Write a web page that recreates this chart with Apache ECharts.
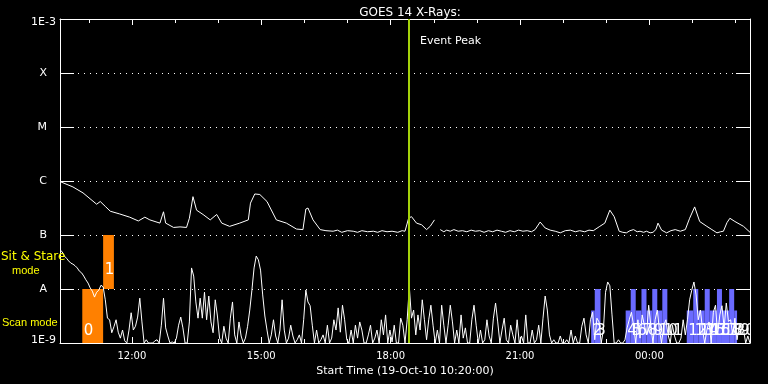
<!DOCTYPE html>
<html><head><meta charset="utf-8">
<script src="https://cdn.jsdelivr.net/npm/echarts@6/dist/echarts.min.js"></script>
<style>html,body{margin:0;padding:0;background:#000;}#c{width:768px;height:384px;}</style>
</head><body><div id="c"></div>
<script>
// Time axis in minutes since 19-Oct-10 00:00
const startMin = 620, endMin = 1580;
const xMajorTicks = [720, 900, 1080, 1260, 1440];
const xMinorTicks = [660, 780, 840, 960, 1020, 1140, 1200, 1320, 1380, 1500, 1560];
const yTickExp = [-9, -8, -7, -6, -5, -4, -3];
const yTickLabels = ['1E-9', 'A', 'B', 'C', 'M', 'X', '1E-3'];
const eventPeakMin = 1105;

// Long channel (log10 flux, W/m^2)
const upTime = [620,638,652,671,676,683,690,703,717,729,738,745,759,764,767,778,787,796,800,805,810,819,829,838,845,856,870,882,885,891,898,908,921,935,949,958,962,965,972,982,990,1000,1006,1012,1020,1028,1034,1040,1048,1056,1062,1068,1075,1082,1090,1096,1100,1105,1109,1116,1123,1130,1135,1141,1145,1149,1154,1158,1163,1168,1174,1180,1186,1192,1198,1204,1210,1216,1222,1228,1234,1240,1246,1252,1258,1264,1270,1276,1281,1288,1295,1302,1309,1316,1323,1330,1337,1343,1350,1356,1362,1371,1378,1385,1391,1398,1403,1408,1413,1418,1423,1427,1432,1436,1441,1445,1449,1452,1457,1464,1470,1476,1483,1490,1496,1503,1510,1520,1527,1534,1539,1543,1548,1552,1559,1571,1580];
const upLog = [-6.01,-6.11,-6.22,-6.43,-6.38,-6.47,-6.56,-6.61,-6.67,-6.74,-6.67,-6.72,-6.78,-6.57,-6.78,-6.86,-6.85,-6.86,-6.69,-6.29,-6.54,-6.62,-6.72,-6.62,-6.78,-6.84,-6.78,-6.72,-6.41,-6.24,-6.25,-6.38,-6.72,-6.78,-6.89,-6.90,-6.52,-6.50,-6.72,-6.90,-6.92,-6.93,-6.91,-6.95,-6.92,-6.93,-6.95,-6.92,-6.94,-6.93,-6.95,-6.92,-6.94,-6.93,-6.95,-6.92,-6.93,-6.69,-6.66,-6.78,-6.81,-6.90,-6.84,-6.72,null,-6.90,-6.94,-6.91,-6.93,-6.90,-6.93,-6.92,-6.94,-6.91,-6.93,-6.92,-6.95,-6.92,-6.94,-6.91,-6.93,-6.95,-6.92,-6.94,-6.91,-6.93,-6.92,-6.94,-6.90,-6.76,-6.87,-6.91,-6.93,-6.96,-6.92,-6.91,-6.94,-6.92,-6.94,-6.91,-6.92,-6.84,-6.78,-6.54,-6.66,-6.93,-6.95,-6.96,-6.92,-6.90,-6.94,-6.93,-6.95,-6.93,-6.96,-6.95,-6.90,-6.78,-6.91,-6.96,-6.92,-6.90,-6.93,-6.90,-6.69,-6.48,-6.75,-6.84,-6.90,-6.96,-6.94,-6.93,-6.77,-6.69,-6.75,-6.84,-6.95];

// Short channel (log10 flux), 3-minute cadence from startMin
const lowStep = 3;
const lowLog = [
-7.28,-7.31,-7.39,-7.43,-7.48,-7.52,-7.54,-7.57,-7.61,-7.67,
-7.70,-7.76,-7.83,-7.89,-7.98,-8.04,-8.15,-8.06,-8.02,-7.93,
-7.96,-8.20,-8.54,-8.57,-8.81,-8.70,-8.57,-8.80,-8.91,-8.76,
-8.96,-9.00,-8.76,-8.44,-8.76,-8.69,-8.52,-8.17,-8.61,-9.00,
-8.94,-9.00,-9.00,-9.00,-8.96,-8.94,-9.00,-8.67,-8.17,-8.72,
-8.87,-9.00,-8.98,-9.00,-8.91,-8.67,-8.52,-8.72,-9.00,-9.00,
-8.61,-7.61,-7.76,-8.24,-8.54,-8.17,-8.54,-8.06,-8.57,-8.13,
-8.61,-8.81,-8.20,-8.50,-8.91,-9.00,-8.69,-8.91,-9.00,-8.54,
-8.24,-8.85,-9.00,-8.61,-8.87,-9.00,-8.91,-8.69,-8.39,-8.02,
-7.61,-7.39,-7.46,-7.65,-8.11,-8.50,-8.76,-9.00,-8.85,-8.57,
-8.87,-9.00,-8.76,-8.20,-8.76,-9.00,-8.91,-8.67,-8.87,-9.00,
-8.94,-8.85,-9.00,-8.57,-8.02,-8.24,-8.31,-8.67,-9.00,-8.76,
-9.00,-8.94,-8.85,-9.00,-8.67,-9.00,-8.91,-8.57,-8.76,-8.35,
-8.80,-8.30,-8.57,-8.94,-9.00,-8.76,-9.00,-8.67,-8.91,-8.61,
-8.76,-9.00,-9.00,-8.85,-8.67,-9.00,-8.91,-8.76,-9.00,-8.57,
-8.85,-8.48,-9.00,-8.76,-8.98,-8.67,-9.00,-9.00,-8.54,-8.67,
-9.00,-8.57,-7.96,-8.54,-8.39,-8.85,-8.48,-8.76,-8.20,-8.57,
-8.94,-8.57,-8.30,-8.67,-9.00,-8.76,-9.00,-8.30,-8.67,-9.00,
-8.67,-8.30,-8.61,-9.00,-8.76,-9.00,-8.48,-8.91,-8.72,-9.00,
-9.00,-8.57,-8.30,-8.67,-9.00,-8.76,-9.00,-8.94,-8.57,-8.87,
-9.00,-8.54,-8.26,-8.61,-9.00,-8.76,-8.54,-8.94,-9.00,-8.67,
-8.85,-9.00,-8.57,-9.00,-8.87,-9.00,-8.48,-9.00,-9.00,-8.76,
-9.00,-8.94,-8.67,-9.00,-8.54,-8.13,-8.39,-8.85,-9.00,-8.94,
-9.00,-9.00,-8.87,-9.00,-9.00,-8.94,-9.00,-8.76,-9.00,-8.87,
-9.00,-9.00,-8.69,-8.54,-8.85,-9.00,-8.57,-8.43,-8.94,-8.54,
-8.61,-9.00,-8.76,-8.06,-7.87,-7.94,-8.48,-9.00,-9.00,-8.94,
-9.00,-9.00,-8.94,-8.72,-8.57,-8.43,-8.67,-9.00,-8.57,-8.91,
-8.48,-8.67,-8.85,-8.30,-8.67,-9.00,-8.57,-8.39,-8.76,-9.00,
-8.67,-8.57,-8.85,-9.00,-8.67,-8.87,-9.00,-9.00,-8.91,-8.57,
-8.85,-8.57,-8.20,-8.02,-7.87,-8.11,-8.57,-8.39,-8.76,-9.00,
-8.76,-8.61,-9.00,-8.43,-8.30,-8.85,-8.48,-8.31,-8.72,-8.26,
-8.60,-8.57,-8.85,-8.54,-8.94,-8.67,-8.85,-8.76,-9.00,-8.87,
-9.00];

// Observing modes
const modeStart  = [651,680,1359,1364,1407,1414,1421,1429,1436,1444,1451,1458,1492,1501,1508,1517,1524,1534,1541,1551,1558];
const modeEnd    = [680,695,1364,1372,1414,1421,1429,1436,1444,1451,1458,1465,1501,1508,1517,1524,1534,1541,1551,1558,1562];
const modeBottom = [1e-9,1e-8,1e-9,1e-9,1e-9,1e-9,1e-9,1e-9,1e-9,1e-9,1e-9,1e-9,1e-9,1e-9,1e-9,1e-9,1e-9,1e-9,1e-9,1e-9,1e-9];
const modeTop    = [1e-8,1e-7,4e-9,1e-8,4e-9,1e-8,4e-9,1e-8,4e-9,1e-8,4e-9,1e-8,4e-9,1e-8,4e-9,1e-8,4e-9,1e-8,4e-9,1e-8,4e-9];
const modeLabel  = ['0','1','2','3','4','5','6','7','8','9','10','11','12','13','14','15','16','17','18','19','20'];
const modeGroup  = [0,0,1,1,1,1,1,1,1,1,1,1,1,1,1,1,1,1,1,1,1];
const modeColors = ['#ff8000', '#6a6aff'];

const FONT = 'DejaVu Sans';
const fmtTime = m => String(Math.floor(m / 60) % 24).padStart(2, '0') + ':' + String(m % 60).padStart(2, '0');

const upData = upTime.map((t, i) => upLog[i] === null ? [t, '-'] : [t, Math.pow(10, upLog[i])]);
const lowData = lowLog.map((v, i) => [startMin + i * lowStep, Math.pow(10, v)]);
const modeData = modeStart.map((s, i) => [s, modeEnd[i], modeBottom[i], modeTop[i]]);

function xAxisDef(pos, ticks, len, showLine, showLabel) {
  return {
    type: 'value', position: pos, min: startMin, max: endMin,
    axisLine: { show: showLine, onZero: false, lineStyle: { color: '#fff', width: 1 } },
    axisTick: { show: true, inside: true, length: len, customValues: ticks, lineStyle: { color: '#fff', width: 1 } },
    axisLabel: showLabel ? { show: true, customValues: ticks, formatter: v => fmtTime(v), color: '#fff', fontSize: 10, fontFamily: FONT, margin: 8 } : { show: false },
    splitLine: { show: false }
  };
}

const yLabelFmt = v => {
  const e = Math.round(Math.log10(v));
  const k = yTickExp.indexOf(e);
  if (k < 0) return '';
  const s = yTickLabels[k];
  if (e === -3) return '{top|' + s + '}';
  if (e === -9) return '{bot|' + s + '}';
  return '{let|' + s + '}';
};

const chart = echarts.init(document.getElementById('c'), null, { renderer: 'canvas' });
chart.setOption({
  backgroundColor: '#000',
  animation: false,
  title: { text: 'GOES 14 X-Rays:', left: 405, top: 2, textAlign: 'center', textStyle: { color: '#fff', fontSize: 12, fontWeight: 'normal', fontFamily: FONT } },
  grid: { left: 60, right: 18, top: 19, bottom: 41 },
  xAxis: [
    Object.assign(xAxisDef('bottom', xMajorTicks, 6, true, true), { name: 'Start Time (19-Oct-10 10:20:00)', nameLocation: 'middle', nameGap: 19, nameTextStyle: { color: '#fff', fontSize: 11, fontFamily: FONT } }),
    xAxisDef('bottom', xMinorTicks, 4, false, false),
    xAxisDef('top', xMajorTicks, 6, true, false),
    xAxisDef('top', xMinorTicks, 4, false, false)
  ],
  yAxis: [
    {
      type: 'log', logBase: 10, min: 1e-9, max: 1e-3, interval: 1, splitNumber: 6, position: 'left',
      axisLine: { show: true, lineStyle: { color: '#fff', width: 1 } },
      axisTick: { show: true, inside: true, length: 14, lineStyle: { color: '#fff', width: 1 } },
      axisLabel: { show: true, color: '#fff', fontSize: 11, fontFamily: FONT, margin: 4, formatter: yLabelFmt,
        rich: {
          top: { color: '#fff', fontSize: 11, fontFamily: FONT, padding: [7, 0, 0, 0] },
          bot: { color: '#fff', fontSize: 11, fontFamily: FONT, padding: [0, 0, 6, 0] },
          let: { color: '#fff', fontSize: 11, fontFamily: FONT, padding: [0, 9, 0, 0] }
        } },
      splitLine: { show: true, lineStyle: { color: '#fff', width: 1, type: [1, 5] } }
    },
    {
      type: 'log', logBase: 10, min: 1e-9, max: 1e-3, interval: 1, splitNumber: 6, position: 'right',
      axisLine: { show: true, lineStyle: { color: '#fff', width: 1 } },
      axisTick: { show: true, inside: true, length: 14, lineStyle: { color: '#fff', width: 1 } },
      axisLabel: { show: false },
      splitLine: { show: false }
    }
  ],
  series: [
    {
      type: 'custom', xAxisIndex: 0, yAxisIndex: 0, clip: true, z: 1,
      encode: { x: [0, 1], y: [2, 3] },
      data: modeData,
      renderItem: function (params, api) {
        const i = params.dataIndex;
        const p1 = api.coord([api.value(0), api.value(3)]);
        const p2 = api.coord([api.value(1), api.value(2)]);
        const off = modeBottom[i] > 1e-9 ? 11 : 4;
        return {
          type: 'group',
          children: [
            { type: 'rect', shape: { x: p1[0], y: p1[1], width: p2[0] - p1[0], height: p2[1] - p1[1] }, style: { fill: modeColors[modeGroup[i]] } },
            { type: 'text', z2: 5, style: { text: modeLabel[i], x: p1[0] + 1.5, y: p2[1] - off, align: 'left', verticalAlign: 'bottom', fill: '#fff', font: '15px ' + FONT } }
          ]
        };
      }
    },
    {
      type: 'line', xAxisIndex: 0, yAxisIndex: 0, data: lowData, showSymbol: false, symbol: 'none', z: 3,
      lineStyle: { color: '#fff', width: 1 }, clip: true
    },
    {
      type: 'line', xAxisIndex: 0, yAxisIndex: 0, data: upData, showSymbol: false, symbol: 'none', z: 3,
      connectNulls: false, lineStyle: { color: '#fff', width: 1 }, clip: true,
      markLine: {
        silent: true, symbol: 'none', animation: false,
        lineStyle: { color: '#a4d20a', width: 2, type: 'solid' },
        label: { show: false },
        data: [{ xAxis: eventPeakMin }]
      }
    }
  ],
  graphic: [
    { type: 'text', left: 1, top: 251, z: 10, style: { text: 'Sit & Stare', fill: '#ffff00', font: '12px ' + FONT } },
    { type: 'text', left: 12, top: 265, z: 10, style: { text: 'mode', fill: '#ffff00', font: '11px Liberation Sans' } },
    { type: 'text', left: 2, top: 317, z: 10, style: { text: 'Scan mode', fill: '#ffff00', font: '11px Liberation Sans' } },
    { type: 'text', left: 420, top: 36, z: 10, style: { text: 'Event Peak', fill: '#fff', font: '11px ' + FONT } }
  ]
});
</script></body></html>
